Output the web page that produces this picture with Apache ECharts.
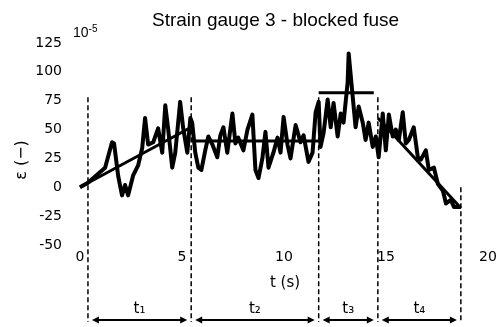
<!DOCTYPE html>
<html>
<head>
<meta charset="utf-8">
<script src="https://cdn.jsdelivr.net/npm/echarts@6/dist/echarts.min.js"></script>
<style>
  html, body { margin: 0; padding: 0; background: #fff; }
  #chart { width: 501px; height: 327px; }
</style>
</head>
<body>
<div id="chart"></div>
<script>
// measured signal (time in s, strain in 1e-5)
const timeS = [0, 0.39, 1.23, 1.57, 1.67, 1.87, 2.06, 2.21, 2.36, 2.60, 2.85, 3.05, 3.19, 3.34, 3.59, 3.83,
  4.03, 4.18, 4.32, 4.52, 4.67, 4.91, 5.06, 5.26, 5.41, 5.50, 5.65, 5.80, 5.95, 6.14, 6.29, 6.49, 6.73,
  6.88, 7.03, 7.22, 7.47, 7.62, 7.76, 8.01, 8.21, 8.45, 8.60, 8.75, 8.94, 9.09, 9.24, 9.48, 9.68, 9.83,
  9.98, 10.17, 10.32, 10.57, 10.81, 10.96, 11.20, 11.40, 11.55, 11.70, 11.79, 11.94, 12.14, 12.29, 12.43,
  12.63, 12.78, 12.92, 13.12, 13.17, 13.37, 13.51, 13.66, 13.86, 14.00, 14.15, 14.35, 14.50, 14.64, 14.84,
  14.99, 15.14, 15.33, 15.48, 15.63, 15.82, 15.97, 16.12, 16.36, 16.56, 16.71, 16.95, 17.10, 17.35, 17.54,
  17.79, 17.94, 18.18, 18.33, 18.67];
const strain = [0, 4, 17, 39, 38, 10, -7, 2, -7, 10, 19, 34, 60, 37, 39, 51,
  30, 71, 51, 17, 30, 74, 51, 30, 60, 56, 30, 17, 15, 32, 44, 37, 26,
  45, 52, 30, 64, 38, 43, 32, 50, 63, 15, 8, 25, 48, 17, 30, 43, 30,
  61, 37, 25, 54, 39, 45, 22, 30, 65, 74, 35, 47, 76, 52, 73,
  44, 64, 56, 91, 116, 78, 52, 70, 56, 41, 56, 35, 44, 26, 64,
  32, 63, 44, 50, 41, 65, 38, 41, 52, 26, 24, 32, 15, 17, 3,
  -3, -14, -11, -17, -17];

// fitted segments for each phase
const fitT1 = [[0, 0], [5.45, 52]];
const fitT2 = [[5.45, 40], [11.7, 40]];
const fitT3 = [[11.7, 82], [14.4, 82]];
const fitT4 = [[14.6, 60], [18.67, -18]];

// phase boundaries (s) and top of each dashed marker (1e-5)
const phaseBounds = [0.39, 5.45, 11.7, 14.6, 18.67];
const boundTops = [78, 78, 78, 78, 0];
const phaseLabels = ['t₁', 't₂', 't₃', 't₄'];

const chart = echarts.init(document.getElementById('chart'));
const fitStyle = { color: '#000', width: 3 };

chart.setOption({
  animation: false,
  backgroundColor: '#fff',
  title: {
    text: 'Strain gauge 3 - blocked fuse',
    left: 147,
    top: 6,
    textStyle: { fontFamily: 'Liberation Sans', fontSize: 19, fontWeight: 'normal', color: '#000' }
  },
  grid: { left: 80, right: 13, top: 43, bottom: 82 },
  xAxis: {
    type: 'value', min: 0, max: 20, interval: 5,
    axisLine: { show: false }, axisTick: { show: false }, splitLine: { show: false },
    axisLabel: { color: '#000', fontFamily: 'DejaVu Sans', fontSize: 14, margin: 5 }
  },
  yAxis: {
    type: 'value', min: -50, max: 125, interval: 25,
    axisLine: { show: false }, axisTick: { show: false }, splitLine: { show: false },
    axisLabel: { color: '#000', fontFamily: 'DejaVu Sans', fontSize: 14, margin: 18 }
  },
  series: [
    {
      type: 'line', symbol: 'none',
      data: timeS.map((t, i) => [t, strain[i]]),
      lineStyle: { color: '#000', width: 4, join: 'round' }, z: 3
    },
    { type: 'line', symbol: 'none', data: fitT1, lineStyle: fitStyle, z: 4 },
    { type: 'line', symbol: 'none', data: fitT2, lineStyle: fitStyle, z: 4 },
    { type: 'line', symbol: 'none', data: fitT3, lineStyle: fitStyle, z: 4 },
    { type: 'line', symbol: 'none', data: fitT4, lineStyle: fitStyle, z: 4 }
  ]
});

// dashed phase markers, arrows and labels below the plot
const bottomY = 322, arrowY = 320, gap = 4, head = 7, half = 3.5;
const px = phaseBounds.map(t => chart.convertToPixel({ gridIndex: 0 }, [t, 0])[0]);
const graphics = [];
phaseBounds.forEach((t, i) => {
  const top = chart.convertToPixel({ gridIndex: 0 }, [t, boundTops[i]])[1];
  graphics.push({
    type: 'line', z: 1,
    shape: { x1: px[i], y1: top, x2: px[i], y2: bottomY },
    style: { stroke: '#000', lineWidth: 1.5, lineDash: [5, 3] }
  });
});
for (let i = 0; i < phaseLabels.length; i++) {
  const a = px[i] + gap, b = px[i + 1] - gap;
  graphics.push({
    type: 'line',
    shape: { x1: a + 2, y1: arrowY, x2: b - 2, y2: arrowY },
    style: { stroke: '#000', lineWidth: 2 }
  });
  graphics.push({
    type: 'polygon',
    shape: { points: [[a, arrowY], [a + head, arrowY - half], [a + head, arrowY + half]] },
    style: { fill: '#000' }
  });
  graphics.push({
    type: 'polygon',
    shape: { points: [[b, arrowY], [b - head, arrowY - half], [b - head, arrowY + half]] },
    style: { fill: '#000' }
  });
  graphics.push({
    type: 'text', x: (a + b) / 2, y: 309,
    style: { text: phaseLabels[i], fontFamily: 'DejaVu Sans', fontSize: 15, fill: '#000', align: 'center', verticalAlign: 'middle' }
  });
}
graphics.push({
  type: 'text', x: 285, y: 283,
  style: { text: 't (s)', fontFamily: 'DejaVu Sans', fontSize: 15, fill: '#000', align: 'center', verticalAlign: 'middle' }
});
graphics.push({
  type: 'text', x: 22, y: 160, rotation: Math.PI / 2,
  style: { text: 'ε (−)', fontFamily: 'DejaVu Sans', fontSize: 16, fill: '#000', align: 'center', verticalAlign: 'middle' }
});
graphics.push({
  type: 'text', x: 73, y: 33,
  style: {
    text: '{b|10}{s|-5}',
    verticalAlign: 'middle',
    rich: {
      b: { fontFamily: 'Liberation Sans', fontSize: 14, fill: '#000' },
      s: { fontFamily: 'Liberation Sans', fontSize: 10, fill: '#000', verticalAlign: 'top', padding: [0, 0, 8, 0] }
    }
  }
});
chart.setOption({ graphic: graphics });
</script>
</body>
</html>
